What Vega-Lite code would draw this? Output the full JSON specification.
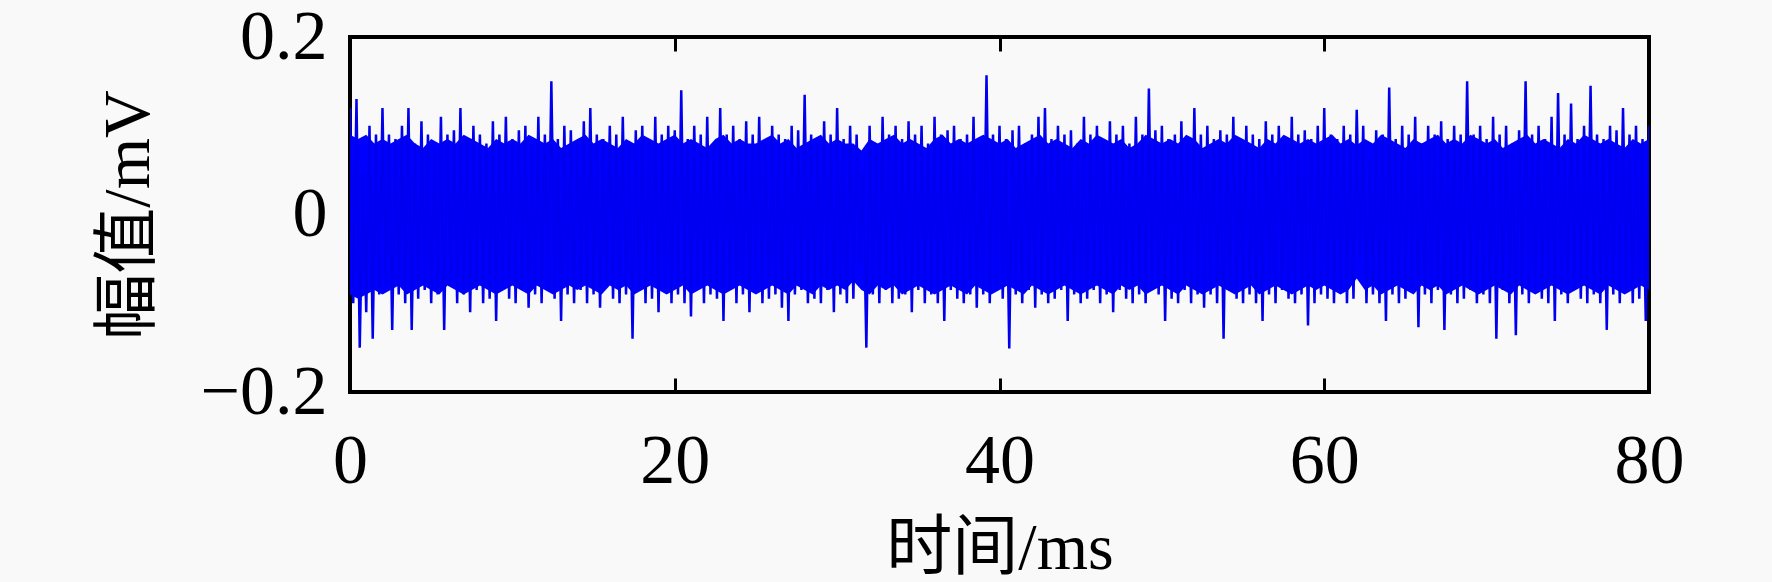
{
  "$schema": "https://vega.github.io/schema/vega-lite/v6.json",
  "description": "Noise signal, amplitude vs time",
  "width": 1299,
  "height": 355,
  "autosize": {"type": "none"},
  "padding": {"left": 350, "top": 37, "right": 123, "bottom": 190},
  "background": "#f9f9f9",
  "config": {
    "view": {"stroke": "black", "strokeWidth": 4, "fill": "#f9f9f9"},
    "axis": {
      "grid": false,
      "domain": false,
      "ticks": true,
      "tickColor": "black",
      "tickWidth": 3,
      "tickSize": -14,
      "labelFlush": false,
      "labelFont": "Liberation Serif",
      "labelFontSize": 70,
      "labelColor": "black",
      "titleFont": "Liberation Serif, Noto Sans CJK SC",
      "titleFontSize": 66,
      "titleFontWeight": "normal",
      "titleColor": "black",
      "zindex": 1
    }
  },
  "datasets": {
    "core": [
      {"t":0,"hi":0.09,"lo":-0.09},{"t":0.5,"hi":0.085,"lo":-0.095},{"t":1,"hi":0.09,"lo":-0.09},{"t":1.5,"hi":0.08,"lo":-0.085},{"t":2,"hi":0.085,"lo":-0.09},{"t":2.5,"hi":0.08,"lo":-0.085},{"t":3,"hi":0.085,"lo":-0.08},{"t":3.5,"hi":0.09,"lo":-0.09},{"t":4,"hi":0.08,"lo":-0.085},{"t":4.5,"hi":0.075,"lo":-0.08},
      {"t":5,"hi":0.085,"lo":-0.085},{"t":5.5,"hi":0.08,"lo":-0.09},{"t":6,"hi":0.085,"lo":-0.08},{"t":6.5,"hi":0.08,"lo":-0.085},{"t":7,"hi":0.09,"lo":-0.09},{"t":7.5,"hi":0.085,"lo":-0.085},{"t":8,"hi":0.08,"lo":-0.08},{"t":8.5,"hi":0.075,"lo":-0.085},{"t":9,"hi":0.085,"lo":-0.09},{"t":9.5,"hi":0.08,"lo":-0.085},
      {"t":10,"hi":0.085,"lo":-0.08},{"t":10.5,"hi":0.08,"lo":-0.085},{"t":11,"hi":0.09,"lo":-0.09},{"t":11.5,"hi":0.085,"lo":-0.08},{"t":12,"hi":0.08,"lo":-0.085},{"t":12.5,"hi":0.085,"lo":-0.09},{"t":13,"hi":0.075,"lo":-0.085},{"t":13.5,"hi":0.08,"lo":-0.08},{"t":14,"hi":0.085,"lo":-0.085},{"t":14.5,"hi":0.09,"lo":-0.08},
      {"t":15,"hi":0.08,"lo":-0.085},{"t":15.5,"hi":0.085,"lo":-0.09},{"t":16,"hi":0.08,"lo":-0.08},{"t":16.5,"hi":0.075,"lo":-0.085},{"t":17,"hi":0.085,"lo":-0.08},{"t":17.5,"hi":0.08,"lo":-0.09},{"t":18,"hi":0.09,"lo":-0.085},{"t":18.5,"hi":0.085,"lo":-0.08},{"t":19,"hi":0.08,"lo":-0.085},{"t":19.5,"hi":0.085,"lo":-0.09},
      {"t":20,"hi":0.09,"lo":-0.085},{"t":20.5,"hi":0.08,"lo":-0.08},{"t":21,"hi":0.085,"lo":-0.09},{"t":21.5,"hi":0.08,"lo":-0.085},{"t":22,"hi":0.075,"lo":-0.08},{"t":22.5,"hi":0.085,"lo":-0.085},{"t":23,"hi":0.09,"lo":-0.09},{"t":23.5,"hi":0.08,"lo":-0.085},{"t":24,"hi":0.085,"lo":-0.08},{"t":24.5,"hi":0.08,"lo":-0.085},
      {"t":25,"hi":0.08,"lo":-0.09},{"t":25.5,"hi":0.085,"lo":-0.085},{"t":26,"hi":0.09,"lo":-0.08},{"t":26.5,"hi":0.08,"lo":-0.085},{"t":27,"hi":0.085,"lo":-0.09},{"t":27.5,"hi":0.075,"lo":-0.08},{"t":28,"hi":0.08,"lo":-0.085},{"t":28.5,"hi":0.085,"lo":-0.09},{"t":29,"hi":0.09,"lo":-0.08},{"t":29.5,"hi":0.08,"lo":-0.085},
      {"t":30,"hi":0.085,"lo":-0.08},{"t":30.5,"hi":0.08,"lo":-0.085},{"t":31,"hi":0.08,"lo":-0.075},{"t":31.5,"hi":0.072,"lo":-0.085},{"t":32,"hi":0.085,"lo":-0.09},{"t":32.5,"hi":0.08,"lo":-0.08},{"t":33,"hi":0.085,"lo":-0.085},{"t":33.5,"hi":0.09,"lo":-0.08},{"t":34,"hi":0.08,"lo":-0.09},{"t":34.5,"hi":0.085,"lo":-0.085},
      {"t":35,"hi":0.08,"lo":-0.08},{"t":35.5,"hi":0.075,"lo":-0.085},{"t":36,"hi":0.085,"lo":-0.09},{"t":36.5,"hi":0.09,"lo":-0.085},{"t":37,"hi":0.08,"lo":-0.08},{"t":37.5,"hi":0.085,"lo":-0.085},{"t":38,"hi":0.08,"lo":-0.09},{"t":38.5,"hi":0.085,"lo":-0.08},{"t":39,"hi":0.09,"lo":-0.085},{"t":39.5,"hi":0.085,"lo":-0.09},
      {"t":40,"hi":0.08,"lo":-0.085},{"t":40.5,"hi":0.085,"lo":-0.08},{"t":41,"hi":0.075,"lo":-0.085},{"t":41.5,"hi":0.08,"lo":-0.09},{"t":42,"hi":0.085,"lo":-0.08},{"t":42.5,"hi":0.09,"lo":-0.085},{"t":43,"hi":0.08,"lo":-0.09},{"t":43.5,"hi":0.085,"lo":-0.085},{"t":44,"hi":0.08,"lo":-0.08},{"t":44.5,"hi":0.075,"lo":-0.085},
      {"t":45,"hi":0.085,"lo":-0.09},{"t":45.5,"hi":0.08,"lo":-0.085},{"t":46,"hi":0.09,"lo":-0.08},{"t":46.5,"hi":0.085,"lo":-0.085},{"t":47,"hi":0.08,"lo":-0.09},{"t":47.5,"hi":0.085,"lo":-0.08},{"t":48,"hi":0.075,"lo":-0.085},{"t":48.5,"hi":0.08,"lo":-0.08},{"t":49,"hi":0.09,"lo":-0.09},{"t":49.5,"hi":0.085,"lo":-0.085},
      {"t":50,"hi":0.08,"lo":-0.08},{"t":50.5,"hi":0.085,"lo":-0.085},{"t":51,"hi":0.08,"lo":-0.09},{"t":51.5,"hi":0.09,"lo":-0.08},{"t":52,"hi":0.085,"lo":-0.085},{"t":52.5,"hi":0.075,"lo":-0.09},{"t":53,"hi":0.08,"lo":-0.085},{"t":53.5,"hi":0.085,"lo":-0.08},{"t":54,"hi":0.08,"lo":-0.085},{"t":54.5,"hi":0.09,"lo":-0.09},
      {"t":55,"hi":0.085,"lo":-0.085},{"t":55.5,"hi":0.08,"lo":-0.08},{"t":56,"hi":0.075,"lo":-0.09},{"t":56.5,"hi":0.085,"lo":-0.085},{"t":57,"hi":0.08,"lo":-0.08},{"t":57.5,"hi":0.09,"lo":-0.085},{"t":58,"hi":0.085,"lo":-0.09},{"t":58.5,"hi":0.08,"lo":-0.085},{"t":59,"hi":0.085,"lo":-0.08},{"t":59.5,"hi":0.08,"lo":-0.085},
      {"t":60,"hi":0.085,"lo":-0.08},{"t":60.5,"hi":0.09,"lo":-0.085},{"t":61,"hi":0.08,"lo":-0.09},{"t":61.5,"hi":0.085,"lo":-0.085},{"t":62,"hi":0.078,"lo":-0.072},{"t":62.5,"hi":0.085,"lo":-0.085},{"t":63,"hi":0.08,"lo":-0.08},{"t":63.5,"hi":0.09,"lo":-0.09},{"t":64,"hi":0.085,"lo":-0.085},{"t":64.5,"hi":0.08,"lo":-0.08},
      {"t":65,"hi":0.075,"lo":-0.085},{"t":65.5,"hi":0.085,"lo":-0.09},{"t":66,"hi":0.08,"lo":-0.08},{"t":66.5,"hi":0.085,"lo":-0.085},{"t":67,"hi":0.09,"lo":-0.08},{"t":67.5,"hi":0.08,"lo":-0.09},{"t":68,"hi":0.085,"lo":-0.085},{"t":68.5,"hi":0.08,"lo":-0.08},{"t":69,"hi":0.09,"lo":-0.085},{"t":69.5,"hi":0.085,"lo":-0.09},
      {"t":70,"hi":0.08,"lo":-0.085},{"t":70.5,"hi":0.085,"lo":-0.08},{"t":71,"hi":0.075,"lo":-0.085},{"t":71.5,"hi":0.08,"lo":-0.09},{"t":72,"hi":0.085,"lo":-0.08},{"t":72.5,"hi":0.09,"lo":-0.085},{"t":73,"hi":0.08,"lo":-0.09},{"t":73.5,"hi":0.085,"lo":-0.085},{"t":74,"hi":0.08,"lo":-0.08},{"t":74.5,"hi":0.075,"lo":-0.085},
      {"t":75,"hi":0.085,"lo":-0.09},{"t":75.5,"hi":0.08,"lo":-0.085},{"t":76,"hi":0.09,"lo":-0.08},{"t":76.5,"hi":0.085,"lo":-0.085},{"t":77,"hi":0.08,"lo":-0.09},{"t":77.5,"hi":0.085,"lo":-0.08},{"t":78,"hi":0.08,"lo":-0.085},{"t":78.5,"hi":0.075,"lo":-0.09},{"t":79,"hi":0.085,"lo":-0.085},{"t":79.5,"hi":0.08,"lo":-0.08},
      {"t":80,"hi":0.085,"lo":-0.085}
    ],
    "signal": [
      {"t":0,"v":0.12},{"t":0.2,"v":-0.1},{"t":0.4,"v":0.13},{"t":0.6,"v":-0.15},{"t":0.8,"v":0.05},{"t":1,"v":-0.11},{"t":1.2,"v":0.1},{"t":1.4,"v":-0.14},{"t":1.6,"v":0.09},{"t":1.8,"v":-0.09},
      {"t":2,"v":0.12},{"t":2.2,"v":-0.08},{"t":2.4,"v":0.09},{"t":2.6,"v":-0.13},{"t":2.8,"v":0.085},{"t":3,"v":-0.09},{"t":3.2,"v":0.1},{"t":3.4,"v":-0.1},{"t":3.6,"v":0.12},{"t":3.8,"v":-0.13},
      {"t":4,"v":0.08},{"t":4.2,"v":-0.095},{"t":4.4,"v":0.105},{"t":4.6,"v":-0.085},{"t":4.8,"v":0.09},{"t":5,"v":-0.1},{"t":5.2,"v":0.075},{"t":5.4,"v":-0.09},{"t":5.6,"v":0.11},{"t":5.8,"v":-0.13},
      {"t":6,"v":0.09},{"t":6.2,"v":-0.08},{"t":6.4,"v":0.095},{"t":6.6,"v":-0.1},{"t":6.8,"v":0.12},{"t":7,"v":-0.09},{"t":7.2,"v":0.085},{"t":7.4,"v":-0.11},{"t":7.6,"v":0.1},{"t":7.8,"v":-0.085},
      {"t":8,"v":0.09},{"t":8.2,"v":-0.1},{"t":8.4,"v":0.08},{"t":8.6,"v":-0.095},{"t":8.8,"v":0.105},{"t":9,"v":-0.12},{"t":9.2,"v":0.09},{"t":9.4,"v":-0.08},{"t":9.6,"v":0.11},{"t":9.8,"v":-0.095},
      {"t":10,"v":0.085},{"t":10.2,"v":-0.1},{"t":10.4,"v":0.095},{"t":10.6,"v":-0.085},{"t":10.8,"v":0.1},{"t":11,"v":-0.105},{"t":11.2,"v":0.08},{"t":11.4,"v":-0.09},{"t":11.6,"v":0.11},{"t":11.8,"v":-0.1},
      {"t":12,"v":0.09},{"t":12.2,"v":-0.085},{"t":12.4,"v":0.15},{"t":12.6,"v":-0.095},{"t":12.8,"v":0.085},{"t":13,"v":-0.12},{"t":13.2,"v":0.1},{"t":13.4,"v":-0.09},{"t":13.6,"v":0.095},{"t":13.8,"v":-0.1},
      {"t":14,"v":0.08},{"t":14.2,"v":-0.085},{"t":14.4,"v":0.105},{"t":14.6,"v":-0.1},{"t":14.8,"v":0.12},{"t":15,"v":-0.09},{"t":15.2,"v":0.09},{"t":15.4,"v":-0.105},{"t":15.6,"v":0.085},{"t":15.8,"v":-0.08},
      {"t":16,"v":0.1},{"t":16.2,"v":-0.095},{"t":16.4,"v":0.09},{"t":16.6,"v":-0.1},{"t":16.8,"v":0.11},{"t":17,"v":-0.09},{"t":17.2,"v":0.08},{"t":17.4,"v":-0.14},{"t":17.6,"v":0.095},{"t":17.8,"v":-0.085},
      {"t":18,"v":0.1},{"t":18.2,"v":-0.1},{"t":18.4,"v":0.085},{"t":18.6,"v":-0.095},{"t":18.8,"v":0.11},{"t":19,"v":-0.11},{"t":19.2,"v":0.09},{"t":19.4,"v":-0.085},{"t":19.6,"v":0.1},{"t":19.8,"v":-0.1},
      {"t":20,"v":0.095},{"t":20.2,"v":-0.09},{"t":20.4,"v":0.14},{"t":20.6,"v":-0.1},{"t":20.8,"v":0.085},{"t":21,"v":-0.115},{"t":21.2,"v":0.1},{"t":21.4,"v":-0.08},{"t":21.6,"v":0.09},{"t":21.8,"v":-0.1},
      {"t":22,"v":0.11},{"t":22.2,"v":-0.09},{"t":22.4,"v":0.08},{"t":22.6,"v":-0.095},{"t":22.8,"v":0.12},{"t":23,"v":-0.12},{"t":23.2,"v":0.09},{"t":23.4,"v":-0.085},{"t":23.6,"v":0.1},{"t":23.8,"v":-0.1},
      {"t":24,"v":0.085},{"t":24.2,"v":-0.09},{"t":24.4,"v":0.105},{"t":24.6,"v":-0.11},{"t":24.8,"v":0.09},{"t":25,"v":-0.085},{"t":25.2,"v":0.11},{"t":25.4,"v":-0.1},{"t":25.6,"v":0.08},{"t":25.8,"v":-0.095},
      {"t":26,"v":0.1},{"t":26.2,"v":-0.09},{"t":26.4,"v":0.09},{"t":26.6,"v":-0.105},{"t":26.8,"v":0.085},{"t":27,"v":-0.12},{"t":27.2,"v":0.1},{"t":27.4,"v":-0.09},{"t":27.6,"v":0.095},{"t":27.8,"v":-0.085},
      {"t":28,"v":0.135},{"t":28.2,"v":-0.1},{"t":28.4,"v":0.09},{"t":28.6,"v":-0.095},{"t":28.8,"v":0.08},{"t":29,"v":-0.1},{"t":29.2,"v":0.105},{"t":29.4,"v":-0.085},{"t":29.6,"v":0.09},{"t":29.8,"v":-0.11},
      {"t":30,"v":0.12},{"t":30.2,"v":-0.09},{"t":30.4,"v":0.085},{"t":30.6,"v":-0.1},{"t":30.8,"v":0.1},{"t":31,"v":-0.095},{"t":31.2,"v":0.09},{"t":31.4,"v":-0.057},{"t":31.6,"v":0.05},{"t":31.8,"v":-0.15},
      {"t":32,"v":0.1},{"t":32.2,"v":-0.09},{"t":32.4,"v":0.08},{"t":32.6,"v":-0.1},{"t":32.8,"v":0.11},{"t":33,"v":-0.085},{"t":33.2,"v":0.09},{"t":33.4,"v":-0.1},{"t":33.6,"v":0.1},{"t":33.8,"v":-0.095},
      {"t":34,"v":0.085},{"t":34.2,"v":-0.09},{"t":34.4,"v":0.105},{"t":34.6,"v":-0.11},{"t":34.8,"v":0.09},{"t":35,"v":-0.085},{"t":35.2,"v":0.1},{"t":35.4,"v":-0.1},{"t":35.6,"v":0.08},{"t":35.8,"v":-0.09},
      {"t":36,"v":0.11},{"t":36.2,"v":-0.1},{"t":36.4,"v":0.09},{"t":36.6,"v":-0.12},{"t":36.8,"v":0.095},{"t":37,"v":-0.085},{"t":37.2,"v":0.1},{"t":37.4,"v":-0.095},{"t":37.6,"v":0.085},{"t":37.8,"v":-0.1},
      {"t":38,"v":0.09},{"t":38.2,"v":-0.09},{"t":38.4,"v":0.11},{"t":38.6,"v":-0.105},{"t":38.8,"v":0.08},{"t":39,"v":-0.09},{"t":39.2,"v":0.157},{"t":39.4,"v":-0.1},{"t":39.6,"v":0.09},{"t":39.8,"v":-0.085},
      {"t":40,"v":0.1},{"t":40.2,"v":-0.095},{"t":40.4,"v":0.085},{"t":40.6,"v":-0.151},{"t":40.8,"v":0.095},{"t":41,"v":-0.09},{"t":41.2,"v":0.1},{"t":41.4,"v":-0.1},{"t":41.6,"v":0.08},{"t":41.8,"v":-0.085},
      {"t":42,"v":0.09},{"t":42.2,"v":-0.105},{"t":42.4,"v":0.11},{"t":42.6,"v":-0.09},{"t":42.8,"v":0.12},{"t":43,"v":-0.1},{"t":43.2,"v":0.085},{"t":43.4,"v":-0.095},{"t":43.6,"v":0.1},{"t":43.8,"v":-0.085},
      {"t":44,"v":0.09},{"t":44.2,"v":-0.12},{"t":44.4,"v":0.095},{"t":44.6,"v":-0.09},{"t":44.8,"v":0.08},{"t":45,"v":-0.1},{"t":45.2,"v":0.11},{"t":45.4,"v":-0.095},{"t":45.6,"v":0.09},{"t":45.8,"v":-0.085},
      {"t":46,"v":0.1},{"t":46.2,"v":-0.1},{"t":46.4,"v":0.085},{"t":46.6,"v":-0.09},{"t":46.8,"v":0.105},{"t":47,"v":-0.11},{"t":47.2,"v":0.09},{"t":47.4,"v":-0.085},{"t":47.6,"v":0.1},{"t":47.8,"v":-0.095},
      {"t":48,"v":0.08},{"t":48.2,"v":-0.1},{"t":48.4,"v":0.11},{"t":48.6,"v":-0.09},{"t":48.8,"v":0.09},{"t":49,"v":-0.1},{"t":49.2,"v":0.142},{"t":49.4,"v":-0.085},{"t":49.6,"v":0.095},{"t":49.8,"v":-0.09},
      {"t":50,"v":0.1},{"t":50.2,"v":-0.12},{"t":50.4,"v":0.085},{"t":50.6,"v":-0.095},{"t":50.8,"v":0.09},{"t":51,"v":-0.1},{"t":51.2,"v":0.105},{"t":51.4,"v":-0.085},{"t":51.6,"v":0.08},{"t":51.8,"v":-0.1},
      {"t":52,"v":0.12},{"t":52.2,"v":-0.09},{"t":52.4,"v":0.09},{"t":52.6,"v":-0.105},{"t":52.8,"v":0.1},{"t":53,"v":-0.09},{"t":53.2,"v":0.085},{"t":53.4,"v":-0.1},{"t":53.6,"v":0.095},{"t":53.8,"v":-0.14},
      {"t":54,"v":0.09},{"t":54.2,"v":-0.085},{"t":54.4,"v":0.11},{"t":54.6,"v":-0.095},{"t":54.8,"v":0.08},{"t":55,"v":-0.1},{"t":55.2,"v":0.1},{"t":55.4,"v":-0.09},{"t":55.6,"v":0.09},{"t":55.8,"v":-0.1},
      {"t":56,"v":0.085},{"t":56.2,"v":-0.12},{"t":56.4,"v":0.105},{"t":56.6,"v":-0.09},{"t":56.8,"v":0.09},{"t":57,"v":-0.1},{"t":57.2,"v":0.1},{"t":57.4,"v":-0.085},{"t":57.6,"v":0.08},{"t":57.8,"v":-0.095},
      {"t":58,"v":0.11},{"t":58.2,"v":-0.1},{"t":58.4,"v":0.09},{"t":58.6,"v":-0.09},{"t":58.8,"v":0.095},{"t":59,"v":-0.125},{"t":59.2,"v":0.085},{"t":59.4,"v":-0.1},{"t":59.6,"v":0.1},{"t":59.8,"v":-0.09},
      {"t":60,"v":0.12},{"t":60.2,"v":-0.095},{"t":60.4,"v":0.09},{"t":60.6,"v":-0.1},{"t":60.8,"v":0.085},{"t":61,"v":-0.085},{"t":61.2,"v":0.1},{"t":61.4,"v":-0.1},{"t":61.6,"v":0.09},{"t":61.8,"v":-0.095},
      {"t":62,"v":0.118},{"t":62.2,"v":-0.05},{"t":62.4,"v":0.1},{"t":62.6,"v":-0.1},{"t":62.8,"v":0.064},{"t":63,"v":-0.09},{"t":63.2,"v":0.095},{"t":63.4,"v":-0.1},{"t":63.6,"v":0.09},{"t":63.8,"v":-0.12},
      {"t":64,"v":0.143},{"t":64.2,"v":-0.09},{"t":64.4,"v":0.085},{"t":64.6,"v":-0.1},{"t":64.8,"v":0.1},{"t":65,"v":-0.095},{"t":65.2,"v":0.09},{"t":65.4,"v":-0.085},{"t":65.6,"v":0.11},{"t":65.8,"v":-0.127},
      {"t":66,"v":0.08},{"t":66.2,"v":-0.09},{"t":66.4,"v":0.1},{"t":66.6,"v":-0.1},{"t":66.8,"v":0.09},{"t":67,"v":-0.085},{"t":67.2,"v":0.105},{"t":67.4,"v":-0.13},{"t":67.6,"v":0.085},{"t":67.8,"v":-0.09},
      {"t":68,"v":0.1},{"t":68.2,"v":-0.1},{"t":68.4,"v":0.09},{"t":68.6,"v":-0.095},{"t":68.8,"v":0.15},{"t":69,"v":-0.085},{"t":69.2,"v":0.09},{"t":69.4,"v":-0.1},{"t":69.6,"v":0.1},{"t":69.8,"v":-0.09},
      {"t":70,"v":0.085},{"t":70.2,"v":-0.1},{"t":70.4,"v":0.11},{"t":70.6,"v":-0.14},{"t":70.8,"v":0.09},{"t":71,"v":-0.085},{"t":71.2,"v":0.1},{"t":71.4,"v":-0.1},{"t":71.6,"v":0.08},{"t":71.8,"v":-0.136},
      {"t":72,"v":0.095},{"t":72.2,"v":-0.09},{"t":72.4,"v":0.15},{"t":72.6,"v":-0.1},{"t":72.8,"v":0.09},{"t":73,"v":-0.085},{"t":73.2,"v":0.1},{"t":73.4,"v":-0.095},{"t":73.6,"v":0.085},{"t":73.8,"v":-0.1},
      {"t":74,"v":0.11},{"t":74.2,"v":-0.12},{"t":74.4,"v":0.137},{"t":74.6,"v":-0.09},{"t":74.8,"v":0.09},{"t":75,"v":-0.1},{"t":75.2,"v":0.125},{"t":75.4,"v":-0.085},{"t":75.6,"v":0.085},{"t":75.8,"v":-0.095},
      {"t":76,"v":0.1},{"t":76.2,"v":-0.1},{"t":76.4,"v":0.145},{"t":76.6,"v":-0.09},{"t":76.8,"v":0.09},{"t":77,"v":-0.1},{"t":77.2,"v":0.085},{"t":77.4,"v":-0.13},{"t":77.6,"v":0.1},{"t":77.8,"v":-0.09},
      {"t":78,"v":0.095},{"t":78.2,"v":-0.1},{"t":78.4,"v":0.12},{"t":78.6,"v":-0.085},{"t":78.8,"v":0.09},{"t":79,"v":-0.1},{"t":79.2,"v":0.1},{"t":79.4,"v":-0.095},{"t":79.6,"v":0.085},{"t":79.8,"v":-0.12},
      {"t":80,"v":0.1}
    ]
  },
  "layer": [
    {
      "data": {"name": "core"},
      "mark": {"type": "area", "color": "#0000ff", "clip": true},
      "encoding": {
        "x": {"field": "t", "type": "quantitative", "axis": null},
        "y": {"field": "hi", "type": "quantitative", "axis": null},
        "y2": {"field": "lo"}
      }
    },
    {
      "data": {"name": "signal"},
      "mark": {"type": "line", "color": "#0000ee", "strokeWidth": 2.5, "clip": true},
      "encoding": {
        "x": {
          "field": "t", "type": "quantitative",
          "scale": {"domain": [0, 80], "nice": false, "zero": false},
          "axis": {"orient": "bottom", "values": [0, 20, 40, 60, 80], "labelPadding": 49, "title": "时间/ms", "titlePadding": 20}
        },
        "y": {
          "field": "v", "type": "quantitative",
          "scale": {"domain": [-0.2, 0.2], "nice": false, "zero": false},
          "axis": {"orient": "left", "values": [-0.2, 0, 0.2], "format": "~g", "labelPadding": 37, "title": "幅值/mV", "titlePadding": 38}
        }
      }
    },
    {
      "data": {"name": "signal"},
      "mark": {"type": "line", "opacity": 0},
      "encoding": {
        "x": {
          "field": "t", "type": "quantitative",
          "axis": {"orient": "top", "values": [0, 20, 40, 60, 80], "labels": false, "title": null}
        },
        "y": {
          "field": "v", "type": "quantitative",
          "axis": {"orient": "right", "values": [-0.2, 0, 0.2], "labels": false, "title": null}
        }
      }
    }
  ]
}
